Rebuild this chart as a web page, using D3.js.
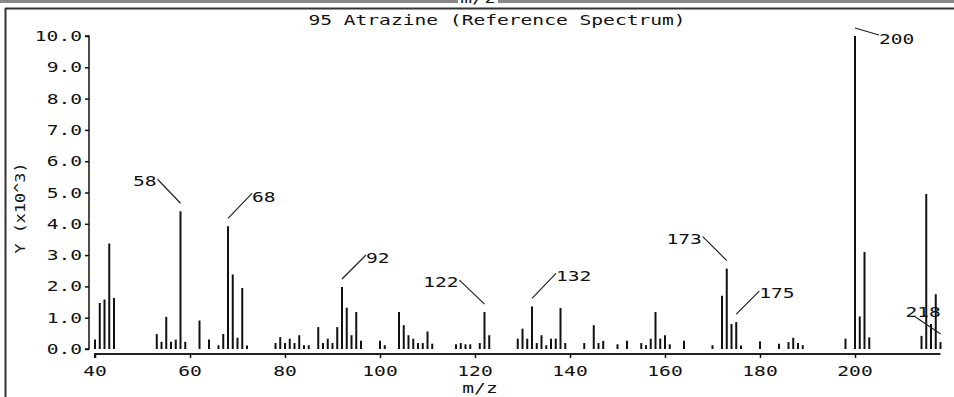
<!DOCTYPE html>
<html><head><meta charset="utf-8">
<script src="https://cdn.jsdelivr.net/npm/d3@7"></script>
<style>
html,body{margin:0;padding:0;background:#fff;}
svg{display:block;}
text{font-family:"DejaVu Sans Mono","Liberation Mono",monospace;fill:#111;}
</style></head>
<body><svg id="c" width="954" height="397"></svg>
<script>
// ---- data ----
const title = "95 Atrazine (Reference Spectrum)";
const xLabel = "m/z";
const yLabel = "Y (x10^3)";
const mz = [40,41,42,43,44,53,54,55,56,57,58,59,62,64,66,67,68,69,70,71,72,
  78,79,80,81,82,83,84,85,87,88,89,90,91,92,93,94,95,96,100,101,
  104,105,106,107,108,109,110,111,116,117,118,119,121,122,123,
  129,130,131,132,133,134,135,136,137,138,139,143,145,146,147,150,152,
  155,156,157,158,159,160,161,164,170,172,173,174,175,176,
  180,184,186,187,188,189,198,200,201,202,203,214,215,216,217,218];
const intensity = [0.30,1.47,1.58,3.37,1.63,0.48,0.23,1.03,0.23,0.30,4.40,0.23,0.91,0.30,0.12,0.48,3.92,2.38,0.36,1.95,0.11,
  0.19,0.38,0.19,0.33,0.19,0.44,0.12,0.12,0.70,0.19,0.33,0.19,0.70,1.98,1.32,0.44,1.18,0.26,0.26,0.12,
  1.18,0.76,0.44,0.33,0.19,0.19,0.56,0.17,0.15,0.19,0.15,0.15,0.19,1.18,0.44,
  0.33,0.65,0.33,1.36,0.19,0.44,0.12,0.33,0.33,1.31,0.19,0.19,0.76,0.19,0.26,0.15,0.26,
  0.19,0.12,0.33,1.18,0.33,0.44,0.15,0.26,0.12,1.70,2.57,0.80,0.86,0.11,
  0.24,0.17,0.22,0.36,0.19,0.12,0.33,10.0,1.04,3.10,0.37,0.42,4.95,0.80,1.75,0.22];
const xTicks = [40,60,80,100,120,140,160,180,200];
const yTicks = [0,1,2,3,4,5,6,7,8,9,10];
const peakLabels = [58,68,92,122,132,173,175,200,218];
// leader geometry for each labelled peak: [dx, dy, textDx, textDy, anchor]
const labelLayout = {
  58:[-23,-24,-1,7,"end"], 68:[24,-25,0,9,"start"], 92:[24,-24,0,8,"start"],
  122:[-25,-24,-1,7,"end"], 132:[24,-25,0,8,"start"], 173:[-24,-24,-1,7,"end"],
  175:[23,-23,0,7,"start"], 200:[24,7,0,9,"start"], 218:[-25,-17,-10,0,"start"]
};

const svg = d3.select("#c");
const W = 954, H = 397;
const x = d3.scaleLinear().domain([40,218]).range([95,940.5]);
const y = d3.scaleLinear().domain([0,10]).range([349,36]);

function txt(g, s, px, py, anchor, sx, size){
  const t = g.append("g").attr("transform",`translate(${px},${py}) scale(${sx||1.4},1)`)
    .append("text").attr("text-anchor",anchor||"start").attr("font-size",size||14).text(s);
  return t;
}

// frame (bottom edge of the panel above, then this panel's border)
svg.append("line").attr("x1",0).attr("x2",W).attr("y1",1.5).attr("y2",1.5).attr("stroke","#888").attr("stroke-width",3);
svg.append("rect").attr("x",458).attr("y",0).attr("width",40).attr("height",5).attr("fill","#fff");
txt(svg, xLabel, 478, 3, "middle");
svg.append("line").attr("x1",5).attr("x2",W).attr("y1",8.5).attr("y2",8.5).attr("stroke","#333").attr("stroke-width",2);
svg.append("line").attr("x1",5.5).attr("x2",5.5).attr("y1",8).attr("y2",H).attr("stroke","#333").attr("stroke-width",2);

// title
txt(svg, title, 497, 25, "middle");

// y axis
const ya = svg.append("g").attr("transform","translate(89,0)")
  .call(d3.axisLeft(y).tickValues(yTicks).tickSize(4).tickFormat(d=>d3.format(".1f")(d)));
ya.select(".domain").attr("stroke","#111").attr("stroke-width",1.5).attr("d",`M-4,${y(10)}H0V${y(0)}H-4`);
ya.selectAll(".tick line").attr("stroke","#111").attr("stroke-width",1.5);
ya.selectAll(".tick text").remove();
yTicks.forEach(v=>txt(ya, d3.format(".1f")(v), -7, y(v)+5, "end"));

// x axis
const xa = svg.append("g").attr("transform","translate(0,354)")
  .call(d3.axisBottom(x).tickValues(xTicks).tickSize(4).tickFormat(""));
xa.select(".domain").attr("stroke","#222").attr("stroke-width",2).attr("d",`M${x(40)},4V0H${x(218)}`);
xa.selectAll(".tick line").attr("stroke","#111").attr("stroke-width",1.5);
xTicks.forEach(v=>txt(xa, String(v), x(v), 22, "middle"));

// axis titles
txt(svg, xLabel, 480, 393, "middle");
svg.append("g").attr("transform","translate(25,208) rotate(-90)")
  .append("g").attr("transform","scale(1.2,1)")
  .append("text").attr("text-anchor","middle").attr("font-size",14).text(yLabel);

// bars
svg.append("g").selectAll("line").data(mz).join("line")
  .attr("x1",(d)=>x(d)).attr("x2",(d)=>x(d))
  .attr("y1",y(0)).attr("y2",(d,i)=>y(intensity[i]))
  .attr("stroke","#111").attr("stroke-width",2);

// peak labels
const lg = svg.append("g");
peakLabels.forEach(p=>{
  const i = mz.indexOf(p);
  const bx = x(p), top = y(intensity[i]);
  const [dx,dy,tdx,tdy,anc] = labelLayout[p];
  const sx = bx, sy = top-8, ex = bx+dx, ey = sy+dy;
  lg.append("line").attr("x1",sx).attr("y1",sy).attr("x2",ex).attr("y2",ey)
    .attr("stroke","#222").attr("stroke-width",1.2);
  txt(lg, String(p), ex+tdx, ey+tdy, anc);
});
</script></body></html>
